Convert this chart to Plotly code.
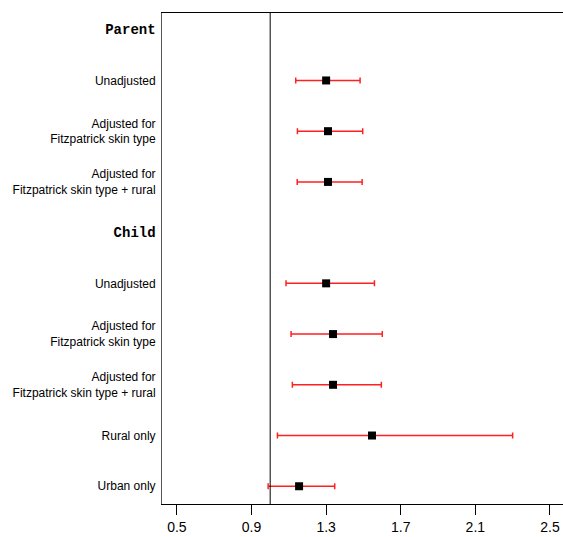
import plotly.graph_objects as go

rows = ["Parent", "Unadjusted", "Adjusted for<br>Fitzpatrick skin type",
        "Adjusted for<br>Fitzpatrick skin type + rural",
        "Child", "Unadjusted", "Adjusted for<br>Fitzpatrick skin type",
        "Adjusted for<br>Fitzpatrick skin type + rural",
        "Rural only", "Urban only"]
is_header = [True, False, False, False, True, False, False, False, False, False]
est = [None, 1.30, 1.31, 1.31, None, 1.30, 1.337, 1.337, 1.546, 1.155]
lower = [None, 1.137, 1.146, 1.145, None, 1.085, 1.112, 1.119, 1.039, 0.989]
upper = [None, 1.482, 1.496, 1.493, None, 1.559, 1.601, 1.596, 2.30, 1.346]
xticks = [0.5, 0.9, 1.3, 1.7, 2.1, 2.5]

pos = list(range(len(rows)))
ticktext = []
for r, h in zip(rows, is_header):
    if h:
        ticktext.append("<span style=\"font-family:'Liberation Mono','Courier New',monospace;font-size:14px\"><b>" + r + "</b></span>")
    else:
        ticktext.append(r)

xs, ys, ep, em = [], [], [], []
for i, (e, lo, hi) in enumerate(zip(est, lower, upper)):
    if e is None:
        continue
    xs.append(e); ys.append(i); ep.append(hi - e); em.append(e - lo)

fig = go.Figure()
fig.add_trace(go.Scatter(
    x=xs, y=ys, mode="markers",
    marker=dict(symbol="square", size=8, color="black"),
    error_x=dict(type="data", symmetric=False, array=ep, arrayminus=em,
                 color="#ff2020", thickness=1.5, width=3),
    showlegend=False))

fig.add_shape(type="line", xref="x", yref="paper", x0=1, x1=1, y0=0, y1=1,
              line=dict(color="black", width=1))

fig.update_layout(
    width=563, height=537,
    margin=dict(l=162, r=0, t=13, b=33),
    plot_bgcolor="white", paper_bgcolor="white",
    font=dict(family="Liberation Sans, Arial", size=12, color="black"),
)
fig.update_xaxes(range=[0.42, 2.57], tickvals=xticks,
                 ticktext=[f"{v:.1f}" for v in xticks],
                 showgrid=False, zeroline=False, showline=True, linecolor="black",
                 linewidth=1, mirror=True, ticks="outside", ticklen=10,
                 tickcolor="black", tickfont=dict(size=14))
fig.update_yaxes(range=[9.35, -0.33], tickvals=pos, ticktext=ticktext,
                 showgrid=False, zeroline=False, showline=True, linecolor="#555555",
                 linewidth=1, ticks="", ticklabelstandoff=3, tickfont=dict(size=12))

fig.write_html("out.html", config={"displayModeBar": False},
               post_script="document.body.style.margin='0';document.body.style.overflow='hidden';")
